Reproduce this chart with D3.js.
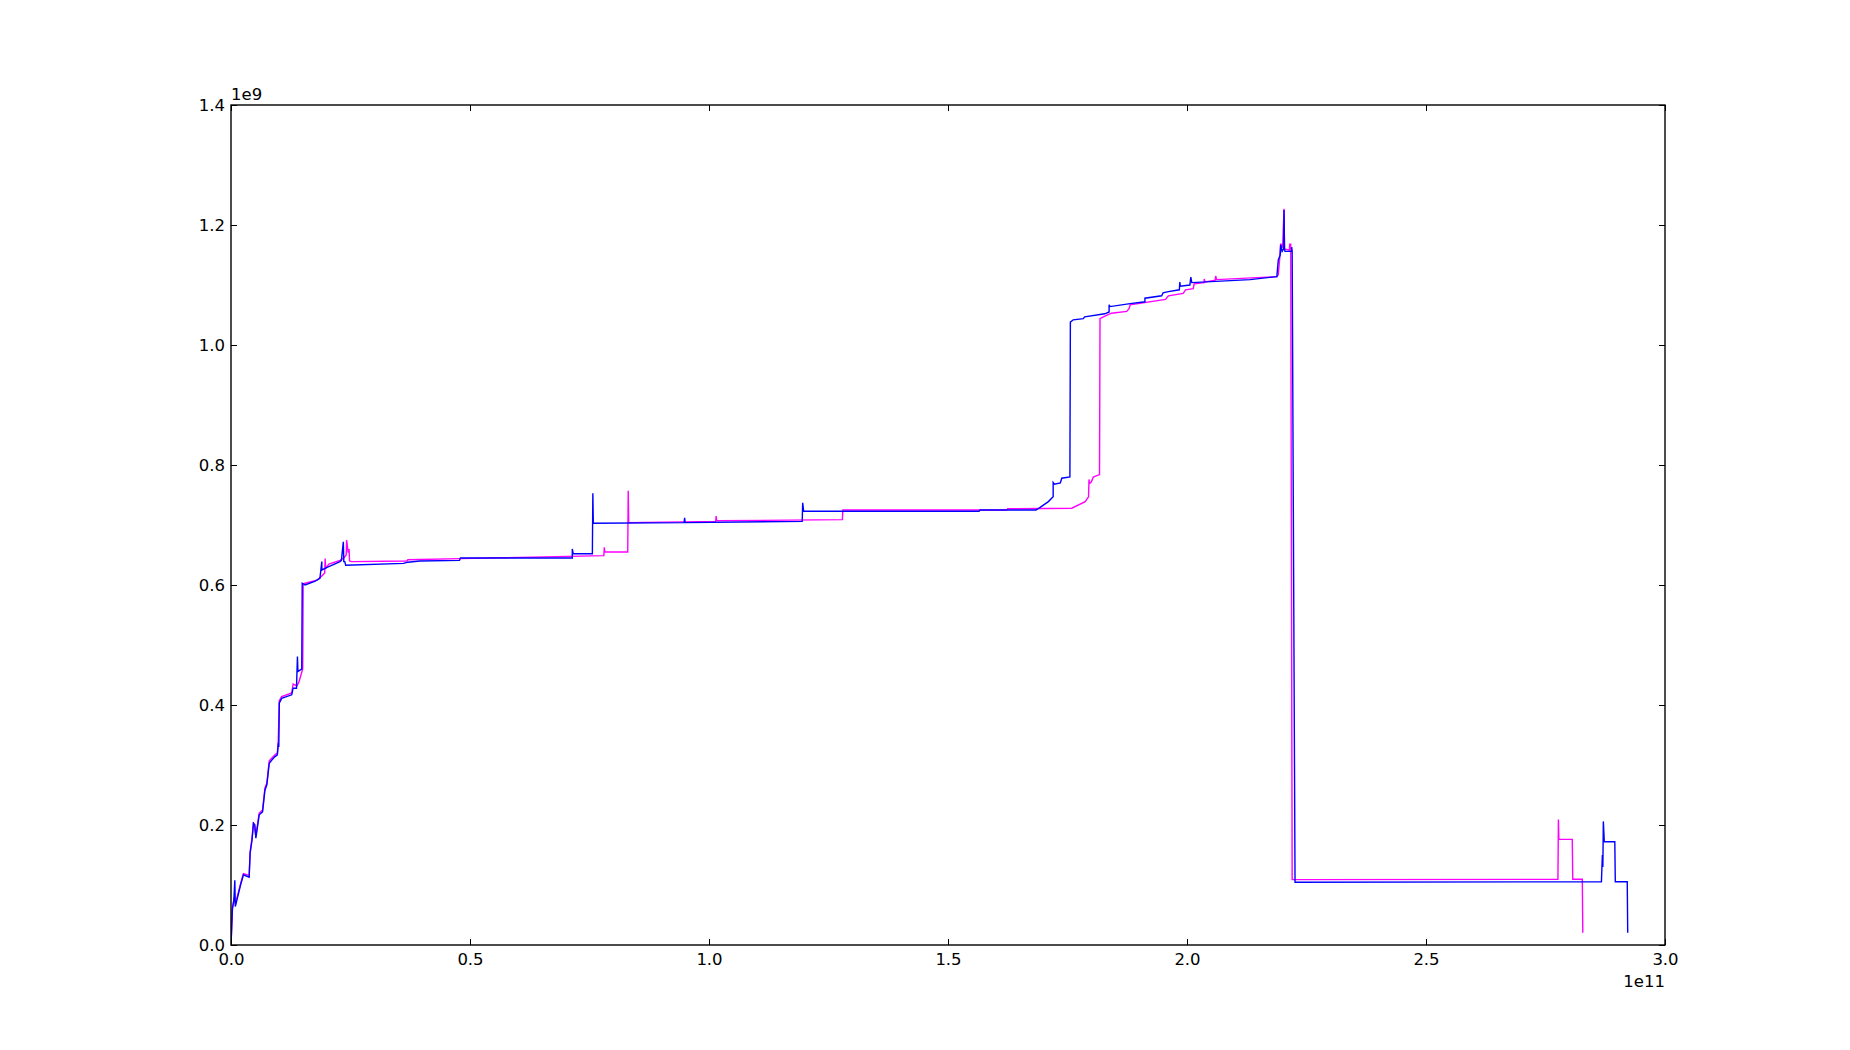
<!DOCTYPE html>
<html>
<head>
<meta charset="utf-8">
<script src="https://cdn.jsdelivr.net/npm/d3@7"></script>
<style>
  html, body { margin: 0; padding: 0; background: #ffffff; }
  svg text { font-family: "DejaVu Sans", sans-serif; }
</style>
</head>
<body>
<svg id="chart" width="1850" height="1050"></svg>
<script>
// x values in units of 1e10, y values in units of 1e8
const X_UNIT = 1e10;
const Y_UNIT = 1e8;

const xTicks = [0.0, 0.5, 1.0, 1.5, 2.0, 2.5, 3.0];      // ×1e11
const yTicks = [0.0, 0.2, 0.4, 0.6, 0.8, 1.0, 1.2, 1.4]; // ×1e9
const xTickLabels = ["0.0", "0.5", "1.0", "1.5", "2.0", "2.5", "3.0"];
const yTickLabels = ["0.0", "0.2", "0.4", "0.6", "0.8", "1.0", "1.2", "1.4"];

const magentaX = [0, 0.03, 0.07, 0.09, 0.2, 0.26, 0.38, 0.40, 0.44, 0.47, 0.52, 0.59, 0.66, 0.71, 0.75, 0.80, 0.92, 0.97, 0.99, 1.01, 1.06, 1.27, 1.30, 1.38, 1.42, 1.50, 1.51, 1.55, 1.8, 1.90, 1.96, 1.97, 1.98, 2.05, 2.28, 2.36, 2.41, 2.42, 2.45, 2.46, 2.47, 2.48, 2.52, 3.68, 3.70, 4.8, 7.8, 7.81, 7.82, 8.30, 8.31, 8.32, 10.14, 10.15, 10.16, 12.79, 12.80, 16.23, 16.25, 17.59, 17.87, 17.94, 17.95, 17.96, 18.0, 18.04, 18.17, 18.18, 18.25, 18.42, 18.74, 18.79, 18.81, 19.55, 19.61, 19.92, 19.97, 20.13, 20.15, 20.36, 20.36, 20.38, 20.59, 20.60, 20.62, 21.88, 21.91, 21.94, 21.96, 22.0, 22.03, 22.04, 22.14, 22.15, 22.17, 22.2, 27.76, 27.77, 27.78, 28.06, 28.07, 28.27, 28.28];
const magentaY = [0, 0.62, 0.8, 0.68, 1.02, 1.19, 1.16, 1.55, 1.78, 2.05, 1.82, 2.2, 2.25, 2.62, 2.7, 3.07, 3.17, 3.2, 3.42, 4.07, 4.14, 4.2, 4.35, 4.32, 4.38, 4.6, 6.02, 6.03, 6.08, 6.15, 6.2, 6.44, 6.28, 6.35, 6.41, 6.45, 6.5, 6.75, 6.55, 6.55, 6.6, 6.4, 6.39, 6.40, 6.42, 6.44, 6.49, 6.63, 6.55, 6.55, 7.57, 7.04, 7.06, 7.15, 7.07, 7.09, 7.25, 7.25, 7.27, 7.28, 7.39, 7.47, 7.76, 7.69, 7.72, 7.80, 7.84, 10.44, 10.47, 10.53, 10.56, 10.61, 10.67, 10.76, 10.82, 10.86, 10.92, 10.94, 11.02, 11.04, 11.1, 11.05, 11.08, 11.15, 11.09, 11.14, 11.17, 11.45, 11.69, 11.62, 12.27, 11.6, 11.58, 11.68, 11.68, 1.09, 1.095, 2.09, 1.76, 1.76, 1.095, 1.095, 0.205];

const blueX = [0, 0.03, 0.06, 0.08, 0.09, 0.2, 0.26, 0.38, 0.40, 0.44, 0.47, 0.50, 0.52, 0.59, 0.66, 0.71, 0.75, 0.80, 0.85, 0.92, 0.97, 0.99, 1.0, 1.01, 1.06, 1.27, 1.30, 1.37, 1.39, 1.40, 1.48, 1.49, 1.55, 1.75, 1.86, 1.90, 1.90, 2.0, 2.28, 2.31, 2.35, 2.36, 2.38, 2.40, 3.61, 3.70, 3.95, 4.78, 4.80, 7.14, 7.14, 7.16, 7.56, 7.57, 7.58, 9.48, 9.49, 9.50, 11.95, 11.96, 11.98, 15.65, 15.67, 16.84, 16.92, 17.1, 17.2, 17.2, 17.23, 17.35, 17.38, 17.55, 17.56, 17.62, 17.83, 17.86, 18.28, 18.37, 18.37, 18.39, 18.81, 19.12, 19.12, 19.47, 19.5, 19.61, 19.84, 19.85, 19.86, 20.06, 20.08, 20.1, 21.32, 21.88, 21.91, 21.95, 21.96, 21.99, 22.02, 22.03, 22.04, 22.05, 22.19, 22.19, 22.2, 22.26, 28.67, 28.69, 28.70, 28.71, 28.73, 28.95, 28.96, 29.21, 29.22];
const blueY = [0, 0.6, 0.75, 1.08, 0.64, 1.0, 1.17, 1.13, 1.53, 1.75, 2.03, 2.0, 1.78, 2.17, 2.22, 2.58, 2.67, 3.03, 3.08, 3.14, 3.17, 3.36, 3.3, 4.03, 4.11, 4.17, 4.28, 4.28, 4.81, 4.56, 4.60, 6.03, 6.0, 6.06, 6.11, 6.39, 6.25, 6.29, 6.39, 6.41, 6.72, 6.39, 6.39, 6.33, 6.36, 6.38, 6.40, 6.41, 6.45, 6.45, 6.6, 6.52, 6.52, 7.53, 7.03, 7.04, 7.12, 7.04, 7.06, 7.37, 7.23, 7.23, 7.25, 7.25, 7.29, 7.39, 7.47, 7.71, 7.68, 7.70, 7.78, 7.80, 10.38, 10.42, 10.44, 10.47, 10.52, 10.55, 10.67, 10.64, 10.69, 10.72, 10.78, 10.82, 10.87, 10.89, 10.92, 11.05, 10.98, 11.0, 11.13, 11.04, 11.09, 11.14, 11.42, 11.5, 11.67, 11.56, 11.6, 12.25, 11.6, 11.56, 11.56, 11.63, 11.56, 1.045, 1.055, 1.5, 1.3, 2.06, 1.72, 1.72, 1.055, 1.055, 0.205];

const margin = { left: 231, right: 1665, top: 105, bottom: 945 };
const svg = d3.select("#chart");

const x = d3.scaleLinear().domain([0, 3e11]).range([margin.left, margin.right]);
const y = d3.scaleLinear().domain([0, 1.4e9]).range([margin.bottom, margin.top]);

svg.append("clipPath").attr("id", "plotclip")
  .append("rect")
  .attr("x", margin.left).attr("y", margin.top)
  .attr("width", margin.right - margin.left)
  .attr("height", margin.bottom - margin.top);

const line = d3.line()
  .x(d => x(d[0] * X_UNIT))
  .y(d => y(d[1] * Y_UNIT));

function zip(xs, ys) { return xs.map((v, i) => [v, ys[i]]); }

const plot = svg.append("g").attr("clip-path", "url(#plotclip)");
plot.append("path")
  .datum(zip(magentaX, magentaY))
  .attr("fill", "none")
  .attr("stroke", "#ff00ff")
  .attr("stroke-width", 1.4)
  .attr("stroke-linejoin", "miter")
  .attr("d", line);
plot.append("path")
  .datum(zip(blueX, blueY))
  .attr("fill", "none")
  .attr("stroke", "#0000ff")
  .attr("stroke-width", 1.4)
  .attr("stroke-linejoin", "miter")
  .attr("d", line);

// Axes (matplotlib classic: ticks inward on all sides)
const tickLen = 6;
const fontSize = 16.5;

const xAxisB = d3.axisBottom(x).tickValues(xTicks.map(v => v * 1e11))
  .tickSizeInner(-tickLen).tickSizeOuter(0).tickPadding(8)
  .tickFormat((d, i) => xTickLabels[i]);
const xAxisT = d3.axisTop(x).tickValues(xTicks.map(v => v * 1e11))
  .tickSizeInner(-tickLen).tickSizeOuter(0).tickFormat("");
const yAxisL = d3.axisLeft(y).tickValues(yTicks.map(v => v * 1e9))
  .tickSizeInner(-tickLen).tickSizeOuter(0).tickPadding(6)
  .tickFormat((d, i) => yTickLabels[i]);
const yAxisR = d3.axisRight(y).tickValues(yTicks.map(v => v * 1e9))
  .tickSizeInner(-tickLen).tickSizeOuter(0).tickFormat("");

function styleAxis(g) {
  g.select(".domain").remove();
  g.selectAll(".tick line").attr("stroke", "#000").attr("stroke-width", 1);
  g.selectAll(".tick text").attr("fill", "#000")
    .style("font-family", "'DejaVu Sans', sans-serif")
    .style("font-size", fontSize + "px");
}

svg.append("g").attr("transform", `translate(0,${margin.bottom})`).call(xAxisB).call(styleAxis);
svg.append("g").attr("transform", `translate(0,${margin.top})`).call(xAxisT).call(styleAxis);
svg.append("g").attr("transform", `translate(${margin.left},0)`).call(yAxisL).call(styleAxis);
svg.append("g").attr("transform", `translate(${margin.right},0)`).call(yAxisR).call(styleAxis);

// frame
svg.append("rect")
  .attr("x", margin.left).attr("y", margin.top)
  .attr("width", margin.right - margin.left)
  .attr("height", margin.bottom - margin.top)
  .attr("fill", "none").attr("stroke", "#000").attr("stroke-width", 1.4);

// offset texts
svg.append("text")
  .attr("x", margin.left).attr("y", margin.top - 5)
  .attr("text-anchor", "start")
  .style("font-size", fontSize + "px")
  .text("1e9");
svg.append("text")
  .attr("x", margin.right).attr("y", margin.bottom + 42)
  .attr("text-anchor", "end")
  .style("font-size", fontSize + "px")
  .text("1e11");
</script>
</body>
</html>
